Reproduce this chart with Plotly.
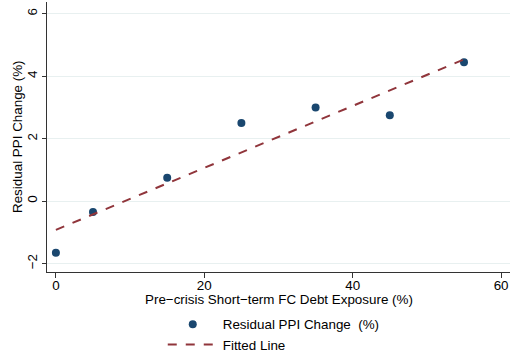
import plotly.graph_objects as go

exposure = [0, 5, 15, 25, 35, 45, 55]
residual_ppi = [-1.65, -0.35, 0.75, 2.5, 3.0, 2.75, 4.45]
fit_x = [0, 55]
fit_y = [-0.92, 4.54]
x_title = "Pre\u2212crisis Short\u2212term FC Debt Exposure (%)"
y_title = "Residual PPI Change (%)"

navy = "#1a476f"
maroon = "#90353b"
font = "Liberation Sans, Arial, sans-serif"
fs = 13.4

fig = go.Figure()
fig.add_trace(go.Scatter(x=exposure, y=residual_ppi, mode="markers",
                         marker=dict(color=navy, size=8),
                         name="Residual PPI Change  (%)"))
fig.add_trace(go.Scatter(x=fit_x, y=fit_y, mode="lines",
                         line=dict(color=maroon, width=2, dash="dash"),
                         name="Fitted Line"))

fig.update_layout(
    width=511, height=353,
    margin=dict(l=47, r=1, t=2, b=81, autoexpand=False),
    paper_bgcolor="white", plot_bgcolor="white",
    font=dict(family=font, size=fs, color="black"),
    showlegend=True,
    legend=dict(orientation="v", x=0.25, xanchor="left", y=-0.137, yanchor="top",
                font=dict(size=fs), tracegroupgap=0, itemwidth=50,
                bgcolor="rgba(0,0,0,0)"),
    annotations=[
        dict(text=x_title, xref="paper", yref="paper", x=0.5, y=0,
             xanchor="center", yanchor="middle", yshift=-27, showarrow=False,
             font=dict(size=fs)),
        dict(text=y_title, xref="paper", yref="paper", x=0, y=0.5,
             xanchor="center", yanchor="middle", xshift=-30, textangle=-90,
             showarrow=False, font=dict(size=fs)),
    ],
)
fig.update_xaxes(range=[-1.2, 61.2], tickvals=[0, 20, 40, 60],
                 automargin=False, ticklabelstandoff=-4,
                 showgrid=False, zeroline=False, showline=True,
                 linecolor="#333333", linewidth=1, ticks="outside",
                 ticklen=5, tickcolor="#333333")
fig.update_yaxes(range=[-2.27, 6.38], tickvals=[-2, 0, 2, 4, 6],
                 automargin=False,
                 ticktext=["\u22122", "0", "2", "4", "6"], tickangle=-90,
                 showgrid=True, gridcolor="#e8f0f0", gridwidth=1,
                 zeroline=False, showline=True,
                 linecolor="#333333", linewidth=1, ticks="outside",
                 ticklen=4, tickcolor="#333333")

post = ("document.body.style.margin='0';document.body.style.overflow='hidden';"
        "var gd=document.getElementById('{plot_id}');"
        "Plotly.relayout(gd,{width:511,height:353});")
fig.write_html("out.html", config={"displayModeBar": False}, post_script=post)
